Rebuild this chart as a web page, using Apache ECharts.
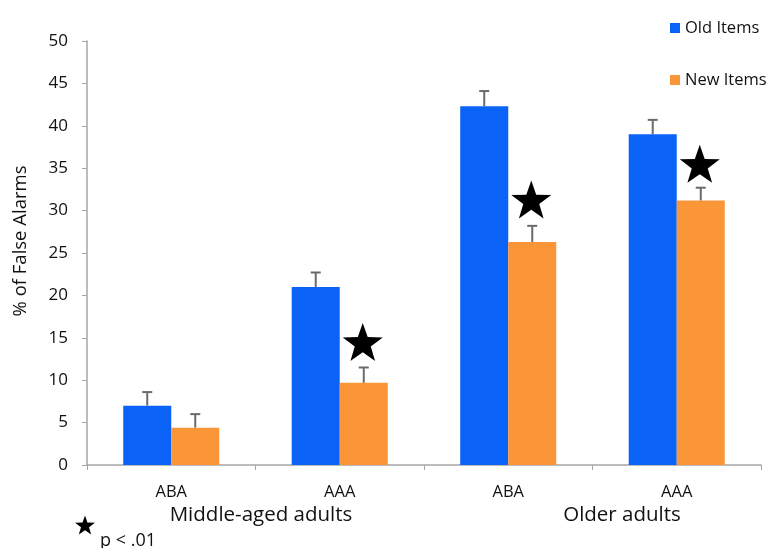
<!DOCTYPE html>
<html><head><meta charset="utf-8">
<script src="https://cdn.jsdelivr.net/npm/echarts@6/dist/echarts.min.js"></script>
<style>html,body{margin:0;padding:0;background:#fff}#c{width:773px;height:548px}</style>
</head><body><div id="c"></div>
<script>
var categories = ['ABA', 'AAA', 'ABA', 'AAA'];
var groupLabels = ['Middle-aged adults', 'Older adults'];
var oldItems = [7.0, 21.0, 42.3, 39.0];
var newItems = [4.4, 9.7, 26.3, 31.2];
var oldErrTop = [8.6, 22.7, 44.1, 40.7];
var newErrTop = [6.0, 11.5, 28.2, 32.7];
var starY = [null, 14.4, 31.2, 35.4];
var yTicks = { min: 0, max: 50, interval: 5 };

var BLUE = '#0b62f6', ORANGE = '#fb9638';
var BAR_FRAC = 0.285;
var FONT = 'Open Sans';
var TXT = '#111';

function starPoints(cx, cy, R) {
  var pts = [], r = R * 0.4;
  for (var k = 0; k < 10; k++) {
    var ang = -Math.PI / 2 + k * Math.PI / 5;
    var rr = (k % 2 === 0) ? R : r;
    pts.push([cx + rr * Math.cos(ang), cy + rr * Math.sin(ang)]);
  }
  return pts;
}

function errSeries(tops, vals, side) {
  return {
    type: 'custom', silent: true, z: 3,
    data: tops.map(function (t, i) { return [i, vals[i], t]; }),
    renderItem: function (params, api) {
      var band = api.size([1, 0])[0];
      var off = side * band * BAR_FRAC / 2;
      var p0 = api.coord([api.value(0), api.value(1)]);
      var p1 = api.coord([api.value(0), api.value(2)]);
      var x = p0[0] + off;
      var st = { stroke: '#6b6b6b', lineWidth: 2 };
      return { type: 'group', children: [
        { type: 'line', shape: { x1: x, y1: p0[1], x2: x, y2: p1[1] }, style: st },
        { type: 'line', shape: { x1: x - 5, y1: p1[1], x2: x + 5, y2: p1[1] }, style: st }
      ]};
    }
  };
}

var starData = [];
starY.forEach(function (v, i) { if (v != null) starData.push([i, v]); });

var chart = echarts.init(document.getElementById('c'));
chart.setOption({
  animation: false,
  grid: { left: 87, right: 12, top: 41, bottom: 83, containLabel: false },
  legend: {
    orient: 'vertical', left: 665, top: 14, itemGap: 34,
    icon: 'rect', itemWidth: 10, itemHeight: 10,
    textStyle: { fontFamily: FONT, fontSize: 16.5, lineHeight: 18, color: TXT },
    data: ['Old Items', 'New Items']
  },
  xAxis: {
    type: 'category', data: categories,
    axisLine: { lineStyle: { color: '#a6a6a6', width: 1.5 } },
    axisTick: { show: true, length: 5, lineStyle: { color: '#a6a6a6' } },
    axisLabel: { margin: 19, fontFamily: FONT, fontSize: 16.5, color: TXT }
  },
  yAxis: {
    type: 'value', min: yTicks.min, max: yTicks.max, interval: yTicks.interval,
    axisLine: { show: true, lineStyle: { color: '#a6a6a6', width: 1.5 } },
    axisTick: { show: true, length: 5, lineStyle: { color: '#a6a6a6' } },
    splitLine: { show: false },
    axisLabel: { margin: 19, fontFamily: FONT, fontSize: 17, color: TXT }
  },
  series: [
    { name: 'Old Items', type: 'bar', data: oldItems, barWidth: (BAR_FRAC * 100) + '%', barGap: '0%', itemStyle: { color: BLUE } },
    { name: 'New Items', type: 'bar', data: newItems, barWidth: (BAR_FRAC * 100) + '%', barGap: '0%', itemStyle: { color: ORANGE } },
    errSeries(oldErrTop, oldItems, -1),
    errSeries(newErrTop, newItems, 1),
    {
      type: 'custom', silent: true, z: 4,
      data: starData,
      renderItem: function (params, api) {
        var band = api.size([1, 0])[0];
        var p = api.coord([api.value(0), api.value(1)]);
        var x = p[0] + band * BAR_FRAC / 2;
        return { type: 'polygon', shape: { points: starPoints(x - 1, p[1] + 1, 21) }, style: { fill: '#000' } };
      }
    }
  ],
  graphic: [
    { type: 'text', x: 21, y: 241, rotation: Math.PI / 2,
      style: { text: '% of False Alarms', fontFamily: FONT, fontSize: 18.5, fill: TXT, textAlign: 'center', textVerticalAlign: 'middle' } },
    { type: 'text', x: 261, y: 515, style: { text: groupLabels[0], fontFamily: FONT, fontSize: 20.5, fill: TXT, textAlign: 'center', textVerticalAlign: 'middle' } },
    { type: 'text', x: 622, y: 515, style: { text: groupLabels[1], fontFamily: FONT, fontSize: 20.5, fill: TXT, textAlign: 'center', textVerticalAlign: 'middle' } },
    { type: 'polygon', shape: { points: starPoints(85, 526, 10.5) }, style: { fill: '#000' } },
    { type: 'text', x: 100, y: 541, style: { text: 'p < .01', fontFamily: FONT, fontSize: 18, fill: TXT, textAlign: 'left', textVerticalAlign: 'middle' } }
  ]
});
</script></body></html>
